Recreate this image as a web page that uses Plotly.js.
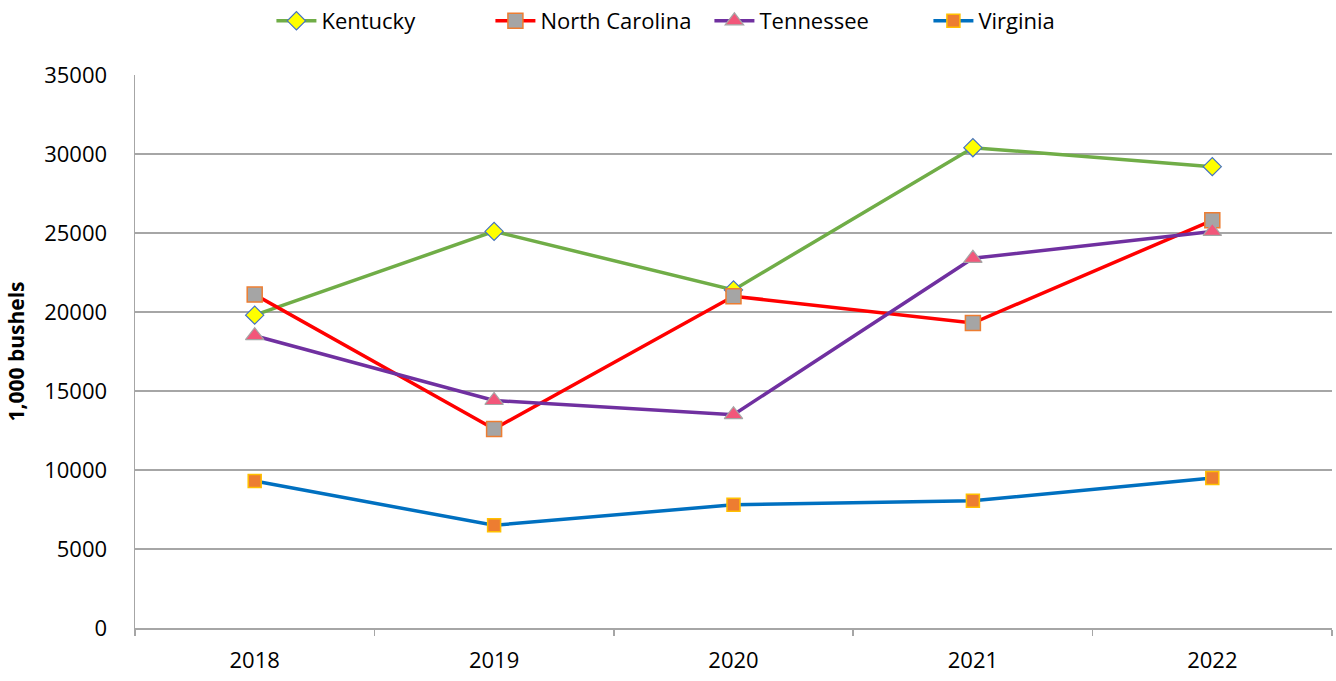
<!DOCTYPE html>
<html>
<head>
<meta charset="utf-8">
<script src="https://cdn.plot.ly/plotly-3.0.1.min.js"></script>
<style>html,body{margin:0;padding:0;background:#fff;}#chart{width:1336px;height:681px;}</style>
</head>
<body>
<div id="chart"></div>
<script>
const years = ["2018", "2019", "2020", "2021", "2022"];
const kentucky = [19800, 25100, 21400, 30400, 29200];
const northCarolina = [21100, 12600, 21000, 19300, 25800];
const tennessee = [18500, 14400, 13500, 23400, 25100];
const virginia = [9300, 6500, 7800, 8050, 9500];
const yTicks = [0, 5000, 10000, 15000, 20000, 25000, 30000, 35000];
const seriesNames = ["Kentucky", "North Carolina", "Tennessee", "Virginia"];

const traces = [
  {name: seriesNames[0], y: kentucky, line: {color: "#70AD47", width: 3.5},
   marker: {symbol: "diamond", size: 14, color: "#FFFF00", line: {color: "#4472C4", width: 1.2}}},
  {name: seriesNames[1], y: northCarolina, line: {color: "#FF0000", width: 3.5},
   marker: {symbol: "square", size: 15, color: "#A5A5A5", line: {color: "#ED7D31", width: 1.5}}},
  {name: seriesNames[2], y: tennessee, line: {color: "#7030A0", width: 3.5},
   marker: {symbol: "triangle-up", size: 16, color: "#F2577A", line: {color: "#A5A5A5", width: 1.2}}},
  {name: seriesNames[3], y: virginia, line: {color: "#0070C0", width: 3.5},
   marker: {symbol: "square", size: 13, color: "#ED7D31", line: {color: "#FFC000", width: 1.5}}}
].map(t => Object.assign({x: years, type: "scatter", mode: "lines+markers"}, t));

const layout = {
  width: 1336, height: 681,
  margin: {l: 135, r: 4, t: 75, b: 53},
  paper_bgcolor: "#fff", plot_bgcolor: "#fff",
  font: {family: "Open Sans, sans-serif", size: 21, color: "#000"},
  showlegend: true,
  legend: {orientation: "h", x: 0.531, xanchor: "center", xref: "container",
           y: 1.0, yanchor: "top", yref: "container",
           font: {size: 22}, itemwidth: 40, tracegroupgap: 0,
           entrywidth: 164, entrywidthmode: "pixels"},
  xaxis: {type: "category", range: [-0.5, 4.5], showgrid: false,
          showline: true, linecolor: "#A6A6A6", linewidth: 1.5,
          ticks: "outside", tickson: "boundaries", ticklen: 6, tickcolor: "#A6A6A6", tickwidth: 1.5,
          tickfont: {size: 22}, ticklabelstandoff: 12},
  yaxis: {range: [0, 35000], tickvals: yTicks, ticktext: yTicks.map(String),
          showgrid: true, gridcolor: "#A6A6A6", gridwidth: 1.5,
          showline: true, linecolor: "#A6A6A6", linewidth: 1.5, zeroline: false,
          ticks: "", tickfont: {size: 22}, ticklabelstandoff: 22,
          title: {text: "<b>1,000 bushels</b>", font: {size: 21}, standoff: 14}}
};

Plotly.newPlot("chart", traces, layout, {displayModeBar: false, staticPlot: true});
</script>
</body>
</html>
